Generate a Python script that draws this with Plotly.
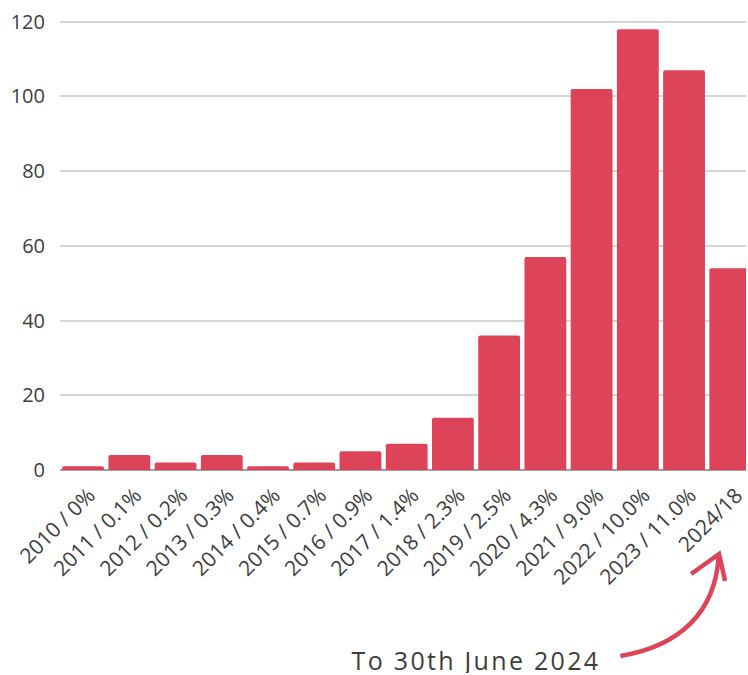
import plotly.graph_objects as go

# Yearly counts, with each year's share shown in the tick label
years = ["2010", "2011", "2012", "2013", "2014", "2015", "2016", "2017",
         "2018", "2019", "2020", "2021", "2022", "2023", "2024"]
shares = ["0%", "0.1%", "0.2%", "0.3%", "0.4%", "0.7%", "0.9%", "1.4%",
          "2.3%", "2.5%", "4.3%", "9.0%", "10.0%", "11.0%", "18"]
counts = [1, 4, 2, 4, 1, 2, 5, 7, 14, 36, 57, 102, 118, 107, 54]
tick_labels = [f"{y} / {s}" for y, s in zip(years[:-1], shares[:-1])] + [f"{years[-1]}/{shares[-1]}"]
y_ticks = [0, 20, 40, 60, 80, 100, 120]

BAR = "#DE4459"
TEXT = "#3d3d3d"
FONT = "Open Sans"

W, H = 748, 675
ML, MR, MT, MB = 60, 0, 18, 205
PW, PH = W - ML - MR, H - MT - MB


def to_paper(x, y):
    """Convert page pixel coordinates into paper coordinates."""
    return (x - ML) / PW, (H - MB - y) / PH


fig = go.Figure(go.Bar(
    x=tick_labels,
    y=counts,
    marker=dict(color=BAR, cornerradius=2, line=dict(width=0)),
    hoverinfo="x+y",
))

fig.update_layout(
    width=W, height=H,
    margin=dict(l=ML, r=MR, t=MT, b=MB, pad=0),
    paper_bgcolor="white", plot_bgcolor="white",
    bargap=0.095,
    showlegend=False,
    font=dict(family=FONT, color=TEXT),
)

fig.update_xaxes(
    type="category",
    range=[-0.5, 14.34],
    tickangle=-45,
    tickfont=dict(family=FONT, size=21, color=TEXT),
    ticklabelstandoff=8,
    ticklabelshift=6,
    showgrid=False, showline=False, ticks="",
    fixedrange=True,
)

fig.update_yaxes(
    range=[0, 121],
    tickvals=y_ticks,
    tickfont=dict(family=FONT, size=20, color=TEXT),
    showgrid=True, gridcolor="#d5d5d5", gridwidth=1.5,
    zeroline=True, zerolinecolor="#a0a0a0", zerolinewidth=2,
    showline=False, ticks="",
    ticklabelstandoff=14,
    fixedrange=True,
)

# Curved arrow from the note up to the last tick label
p0 = to_paper(622, 656)
c1 = to_paper(682, 646)
c2 = to_paper(717, 612)
p1 = to_paper(720.5, 557)
curve = f"M {p0[0]},{p0[1]} C {c1[0]},{c1[1]} {c2[0]},{c2[1]} {p1[0]},{p1[1]}"
h0 = to_paper(693, 574)
h1 = to_paper(721, 554)
h2 = to_paper(727, 581)
head = f"M {h0[0]},{h0[1]} L {h1[0]},{h1[1]} L {h2[0]},{h2[1]}"
for path in (curve, head):
    fig.add_shape(type="path", path=path, xref="paper", yref="paper",
                  line=dict(color=BAR, width=4.5), layer="above")

tx, ty = to_paper(477.5, 674)
fig.add_annotation(
    x=tx, y=ty, xref="paper", yref="paper",
    text="<span style='letter-spacing:2.3px'>To 30th June 2024</span>",
    showarrow=False, xanchor="center", yanchor="bottom",
    width=300, height=27, align="center", valign="middle",
    borderpad=0,
    font=dict(family=FONT, size=25, color=TEXT),
)

fig.write_html("out.html")
